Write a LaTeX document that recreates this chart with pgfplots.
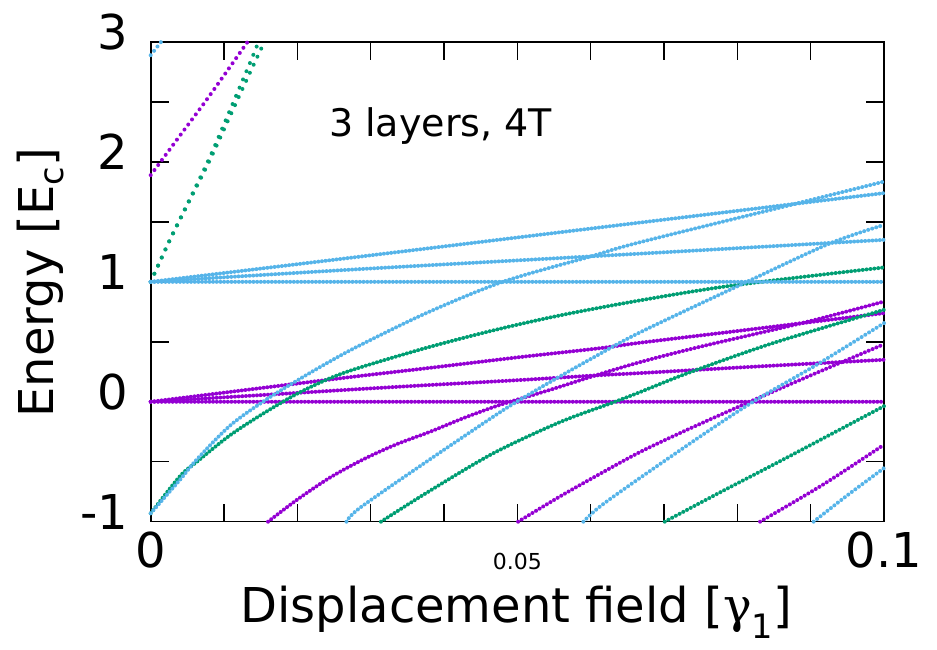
\documentclass[border=0pt]{standalone}
\usepackage{fontspec}
\setmainfont{DejaVu Sans}
\newfontfamily\serifg{DejaVu Serif}
\usepackage{pgfplots}
\pgfplotsset{compat=1.18}
\definecolor{gpP}{HTML}{9400D3}
\definecolor{gpG}{HTML}{009E73}
\definecolor{gpB}{HTML}{56B4E9}
\tikzset{dl/.style 2 args={color=#1, line width=4.0bp, line cap=round, dash pattern=on 0bp off #2, smooth}}
\begin{document}
\begin{tikzpicture}[x=1bp,y=1bp]
\useasboundingbox (0,0) rectangle (937,650);
\begin{axis}[
  at={(150.7bp,128.3bp)}, anchor=south west,
  width=733.3bp, height=479.7bp, scale only axis,
  xmin=0, xmax=0.1, ymin=-1, ymax=3,
  clip=false,
  axis line style={line width=1.6bp},
  tick align=inside, major tick length=18bp,
  every tick/.style={line width=1.4bp, black},
  xtick={0,0.01,0.02,0.03,0.04,0.05,0.06,0.07,0.08,0.09,0.1},
  xticklabels={0,{},{},{},{},{},{},{},{},{},0.1},
  ytick={-1,-0.5,0,0.5,1,1.5,2,2.5,3},
  yticklabels={-1,{},0,{},1,{},2,{},3},
  tick label style={font=\fontsize{48bp}{52bp}\selectfont, inner sep=0pt},
  xticklabel style={anchor=north, yshift=-10bp},
  yticklabel style={anchor=east, xshift=-22bp, yshift=10bp},
  extra x ticks={0.05}, extra x tick labels={0.05},
  extra x tick style={major tick length=0pt, xticklabel style={font=\fontsize{22bp}{24bp}\selectfont, yshift=-21bp}},
]
% ---- purple ----
\addplot[dl={gpP}{3.67bp}] coordinates {(0,0) (0.1,0)};
\addplot[dl={gpP}{3.67bp}] coordinates {(0,0) (0.01,0.076) (0.02,0.152) (0.0285,0.215) (0.0381,0.283) (0.05,0.37) (0.0613,0.447) (0.0667,0.492) (0.08,0.59) (0.0894,0.66) (0.1,0.739)};
\addplot[dl={gpP}{3.67bp}] coordinates {(0,0) (0.01,0.037) (0.02,0.074) (0.0285,0.106) (0.0381,0.14) (0.05,0.18) (0.0613,0.222) (0.0667,0.239) (0.08,0.285) (0.09,0.318) (0.1,0.35)};
\addplot[dl={gpP}{4.0bp}] coordinates {(0.016,-1) (0.02,-0.815) (0.0245,-0.63) (0.029,-0.48) (0.0335,-0.355) (0.0381,-0.25) (0.0425,-0.14) (0.0467,-0.045) (0.049,0) (0.0526,0.065) (0.0558,0.125) (0.0604,0.215) (0.0667,0.33) (0.075,0.46) (0.0894,0.665) (0.1,0.836)};
\addplot[dl={gpP}{4.2bp}] coordinates {(0.0501,-1) (0.0558,-0.79) (0.0613,-0.6) (0.0667,-0.42) (0.0731,-0.235) (0.0817,0) (0.09,0.22) (0.1,0.48)};
\addplot[dl={gpP}{4.3bp}] coordinates {(0.0831,-1) (0.0917,-0.69) (0.1,-0.358)};
\addplot[dl={gpP}{6.3bp}] coordinates {(0,1.89) (0.004,2.22) (0.008,2.55) (0.0132,3.0)};
% ---- green ----
\addplot[dl={gpG}{8.9bp}] coordinates {(0,1) (0.0026,1.35) (0.0054,1.70) (0.0081,2.044) (0.0108,2.43) (0.0135,2.82) (0.0147,3.0)};
\addplot[dl={gpG}{8.9bp}] coordinates {(0,1) (0.0026,1.345) (0.0054,1.69) (0.0081,2.02) (0.0108,2.38) (0.0135,2.74) (0.0155,3.0)};
\addplot[dl={gpG}{3.9bp}] coordinates {(0,-0.93) (0.004,-0.62) (0.0063,-0.5) (0.0108,-0.28) (0.0153,-0.1) (0.0199,0.065) (0.0244,0.195) (0.0285,0.285) (0.0376,0.45) (0.0467,0.595) (0.0558,0.72) (0.0667,0.845) (0.0794,0.97) (0.1,1.12)};
\addplot[dl={gpG}{4.0bp}] coordinates {(0.0314,-1) (0.0376,-0.76) (0.0467,-0.43) (0.0558,-0.17) (0.0631,-0.005) (0.0667,0.08) (0.0735,0.245) (0.0849,0.49) (0.1,0.767)};
\addplot[dl={gpG}{4.2bp}] coordinates {(0.0701,-1) (0.0775,-0.76) (0.0849,-0.525) (0.0931,-0.26) (0.1,-0.036)};
% ---- blue ----
\addplot[dl={gpB}{3.67bp}] coordinates {(0,1) (0.1,1)};
\addplot[dl={gpB}{3.67bp}] coordinates {(0,1) (0.0285,1.21) (0.0667,1.494) (0.1,1.74)};
\addplot[dl={gpB}{3.67bp}] coordinates {(0,1) (0.0285,1.106) (0.0667,1.235) (0.1,1.35)};
\addplot[dl={gpB}{4.1bp}] coordinates {(0,-0.93) (0.004,-0.65) (0.0063,-0.48) (0.0108,-0.2) (0.0153,0) (0.0199,0.175) (0.0244,0.335) (0.0285,0.47) (0.0376,0.74) (0.048,1.0) (0.0599,1.21) (0.0667,1.33) (0.0872,1.64) (0.1,1.836)};
\addplot[dl={gpB}{4.2bp}] coordinates {(0.0267,-1) (0.0285,-0.886) (0.0376,-0.5) (0.0467,-0.125) (0.0499,0) (0.0549,0.18) (0.0604,0.37) (0.0667,0.578) (0.0813,1.0) (0.0926,1.32) (0.1,1.475)};
\addplot[dl={gpB}{4.4bp}] coordinates {(0.059,-1) (0.0613,-0.872) (0.0667,-0.636) (0.0763,-0.233) (0.0826,0.017) (0.0908,0.308) (0.1,0.656)};
\addplot[dl={gpB}{4.4bp}] coordinates {(0.0904,-1) (0.095,-0.78) (0.1,-0.553)};
\addplot[dl={gpB}{5.5bp}] coordinates {(0,2.89) (0.0014,3.0)};
\end{axis}
\node[anchor=base, font=\fontsize{48bp}{52bp}\selectfont] at (516.5,27) {Displacement field [{\serifg γ}\textsubscript{1}]};
\node[rotate=90, anchor=base, font=\fontsize{48bp}{52bp}\selectfont] at (53.3,367.5) {Energy [E\textsubscript{c}]};
\node[anchor=base west, inner sep=0pt, font=\fontsize{38bp}{42bp}\selectfont] at (329,513) {3 layers, 4T};
\end{tikzpicture}
\end{document}
